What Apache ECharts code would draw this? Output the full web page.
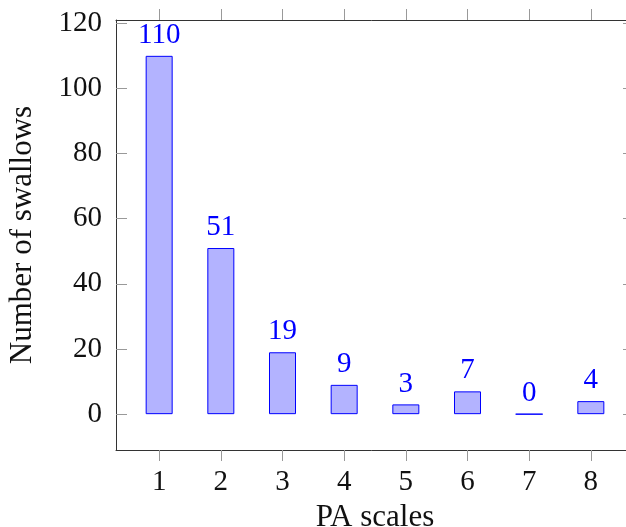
<!DOCTYPE html>
<html><head><meta charset="utf-8">
<script src="https://cdn.jsdelivr.net/npm/echarts@6/dist/echarts.min.js"></script>
<style>html,body{margin:0;padding:0;background:#fff}#c{width:626px;height:527px}</style>
</head><body><div id="c"></div>
<script>
const categories = [1, 2, 3, 4, 5, 6, 7, 8];
const swallows = [110, 51, 19, 9, 3, 7, 0, 4];
const yTicks = [0, 20, 40, 60, 80, 100, 120];
const xTitle = 'PA scales';
const yTitle = 'Number of swallows';

const FONT = "'Liberation Serif', 'DejaVu Serif', serif";
const FS = 29;
const TFS = 31;
const spine = {show: true, onZero: false, lineStyle: {color: '#333', width: 1}};
const tickStyle = {color: '#999', width: 1};

const chart = echarts.init(document.getElementById('c'), null, {renderer: 'canvas'});
chart.setOption({
  animation: false,
  backgroundColor: '#fff',
  grid: {left: 116, top: 20, width: 518, height: 430, containLabel: false, outerBoundsMode: 'none'},
  xAxis: [{
    type: 'value', position: 'bottom', min: 0.3, max: 8.7,
    axisLine: spine,
    axisTick: {show: true, inside: false, length: 11, lineStyle: tickStyle, customValues: categories},
    axisLabel: {show: true, customValues: categories, margin: 18, color: '#111', fontFamily: FONT, fontSize: FS},
    splitLine: {show: false},
    name: xTitle, nameLocation: 'middle', nameGap: 50,
    nameTextStyle: {color: '#111', fontFamily: FONT, fontSize: TFS}
  }, {
    type: 'value', position: 'top', min: 0.3, max: 8.7,
    axisLine: spine,
    axisTick: {show: true, inside: false, length: 11, lineStyle: tickStyle, customValues: categories},
    axisLabel: {show: false},
    splitLine: {show: false}
  }],
  yAxis: [{
    type: 'value', position: 'left', min: -11, max: 121,
    axisLine: spine,
    axisTick: {show: true, inside: true, length: 11, lineStyle: tickStyle, customValues: yTicks},
    axisLabel: {show: true, customValues: yTicks, margin: 14, color: '#111', fontFamily: FONT, fontSize: FS},
    splitLine: {show: false},
    name: yTitle, nameLocation: 'middle', nameGap: 78, nameRotate: 90,
    nameTextStyle: {color: '#111', fontFamily: FONT, fontSize: TFS}
  }, {
    type: 'value', position: 'right', min: -11, max: 121,
    axisLine: spine,
    axisTick: {show: true, inside: true, length: 11, lineStyle: tickStyle, customValues: yTicks},
    axisLabel: {show: false},
    splitLine: {show: false}
  }],
  series: [{
    type: 'bar',
    xAxisIndex: 0, yAxisIndex: 0,
    data: categories.map((c, i) => [c, swallows[i]]),
    barWidth: 27,
    itemStyle: {color: '#b3b3ff', borderColor: '#0000ff', borderWidth: 1},
    label: {show: true, position: 'top', distance: 6, color: '#0000ff', fontFamily: FONT, fontSize: FS,
      formatter: p => String(p.value[1])}
  }]
});
</script>
</body></html>
